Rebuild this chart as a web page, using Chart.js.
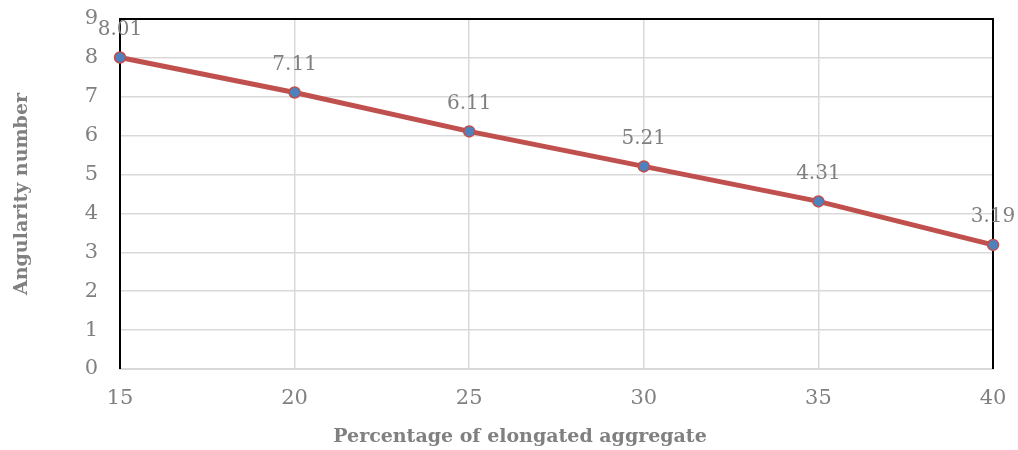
<!DOCTYPE html>
<html>
<head>
<meta charset="utf-8">
<script src="https://cdn.jsdelivr.net/npm/chart.js@4.4.0/dist/chart.umd.min.js"></script>
<style>
  html, body { margin: 0; padding: 0; background: #fff; }
  #wrap { width: 1018px; height: 450px; }
</style>
</head>
<body>
<div id="wrap"><canvas id="myChart"></canvas></div>
<script>
const percentElongated = [15, 20, 25, 30, 35, 40];
const angularityNumber = [8.01, 7.11, 6.11, 5.21, 4.31, 3.19];
const yTicks = [0, 1, 2, 3, 4, 5, 6, 7, 8, 9];

const grayText = '#808080';
const serif = "'DejaVu Serif', serif";

// labels above points, black frame on left/top/right, x title
const labelsPlugin = {
    id: 'labels',
    afterDatasetsDraw(chart) {
        const ctx = chart.ctx;
        const meta = chart.getDatasetMeta(0);
        ctx.save();
        ctx.fillStyle = grayText;
        ctx.font = "20px " + serif;
        ctx.textAlign = 'center';
        ctx.textBaseline = 'middle';
        meta.data.forEach(function(pt, i) {
            ctx.fillText(angularityNumber[i].toFixed(2), pt.x, pt.y - 28);
        });
        ctx.font = "bold 19px " + serif;
        ctx.fillText('Percentage of elongated aggregate', 520, 437);
        ctx.restore();
    },
    beforeDatasetsDraw(chart) {
        const a = chart.chartArea;
        const ctx = chart.ctx;
        ctx.save();
        ctx.strokeStyle = '#000';
        ctx.lineWidth = 2;
        ctx.beginPath();
        ctx.moveTo(a.left, a.bottom);
        ctx.lineTo(a.left, a.top);
        ctx.lineTo(a.right, a.top);
        ctx.lineTo(a.right, a.bottom);
        ctx.stroke();
        ctx.restore();
    }
};

function noPad(s) {
    s.paddingTop = 0;
    s.paddingBottom = 0;
    s.paddingLeft = 0;
    s.paddingRight = 0;
}

document.addEventListener("DOMContentLoaded", function() {
    const ctx = document.getElementById('myChart').getContext('2d');
    const myChart = new Chart(ctx, {
        type: 'line',
        data: {
            datasets: [{
                data: percentElongated.map((x, i) => ({ x: x, y: angularityNumber[i] })),
                borderColor: '#C0504D',
                borderWidth: 5,
                pointRadius: 5.5,
                pointBackgroundColor: '#4F81BD',
                pointBorderColor: '#C0504D',
                pointBorderWidth: 1.5,
                tension: 0,
                clip: false
            }]
        },
        options: {
            responsive: true,
            maintainAspectRatio: false,
            animation: false,
            layout: { padding: { left: 11, top: 19, right: 25, bottom: 3 } },
            plugins: {
                legend: { display: false },
                tooltip: { enabled: false }
            },
            scales: {
                x: {
                    type: 'linear',
                    min: 15,
                    max: 40,
                    afterFit: function(s) { s.height = 78; noPad(s); },
                    ticks: {
                        stepSize: 5,
                        color: grayText,
                        font: { family: serif, size: 21 },
                        padding: 17
                    },
                    grid: { color: '#d9d9d9', lineWidth: 1.5, drawTicks: false },
                    border: { color: '#d9d9d9', width: 2 }
                },
                y: {
                    min: 0,
                    max: 9,
                    afterFit: function(s) { s.width = 109; noPad(s); },
                    afterBuildTicks: function(s) { s.ticks = yTicks.map(v => ({ value: v })); },
                    ticks: {
                        color: grayText,
                        font: { family: serif, size: 21 },
                        padding: 22
                    },
                    grid: { color: '#d9d9d9', lineWidth: 1.5, drawTicks: false },
                    border: { display: false },
                    title: {
                        display: true,
                        text: 'Angularity number',
                        color: grayText,
                        font: { family: serif, size: 19, weight: 'bold' },
                        padding: 0
                    }
                }
            }
        },
        plugins: [labelsPlugin]
    });
});
</script>
</body>
</html>
